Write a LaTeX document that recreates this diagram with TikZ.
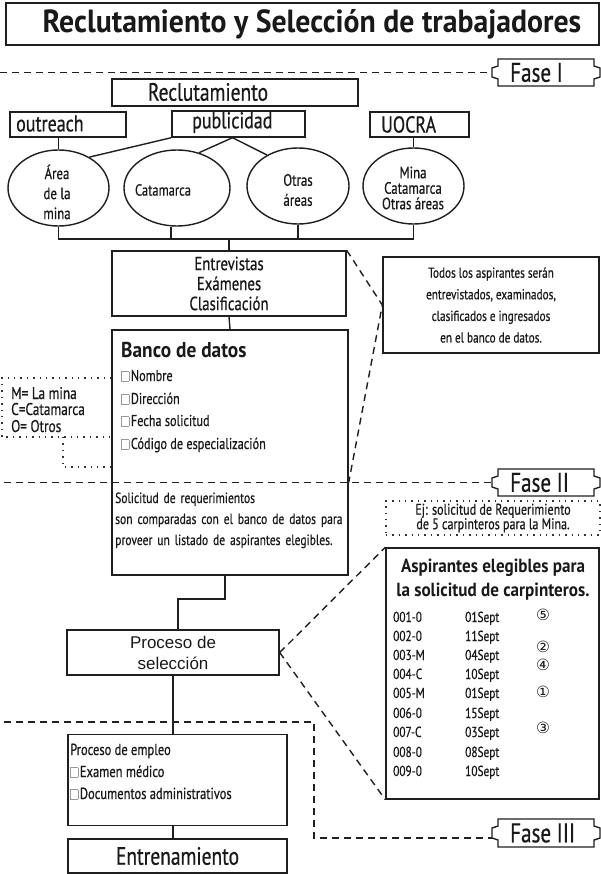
\documentclass[tikz,border=0pt]{standalone}
\usepackage{fontspec}
\setmainfont{PT Sans}
\newfontfamily\cnd{PT Sans}[FakeStretch=0.78, FakeBold=0.6]
\newfontfamily\bnd{PT Sans}[FakeStretch=0.9]
\newfontfamily\tnd{PT Sans}[FakeStretch=0.93]
\newfontfamily\symf{DejaVu Sans}
\newfontfamily\arialf{Liberation Sans}
\usetikzlibrary{shapes.geometric}
\newcommand\fs[2]{\fontsize{#1}{#2}\selectfont}
\newcommand\chk{{\color{black!40}\fboxrule=0.6pt\fboxsep=0pt\fbox{\rule{0pt}{9pt}\rule{7pt}{0pt}}}\kern1.5pt}
\newcommand\fasetag[4]{%
  \node[minimum width=108, minimum height={#3-#2}] (#1) at (546,{(#2+#3)/2}) {};
  \draw[tagline] (498,#2) -- (594,#2) -- (594,#2+7) -- (600,#2+9) -- (600,#3-9) -- (594,#3-7) -- (594,#3)
     -- (498,#3) -- (498,#3-7) -- (492,#3-9) -- (492,#2+9) -- (498,#2+7) -- cycle;
  \node[anchor=west, font=\cnd\fs{27}{27}] (#1t) at (510,{(#2+#3)/2}) {#4};}
\begin{document}
\begin{tikzpicture}[x=1pt,y=-1pt,
  every node/.style={inner sep=0pt, text=black!90},
  box/.style={draw=black!88, line width=1.4pt, rectangle},
  ell/.style={draw=black!88, line width=1.4pt, ellipse},
  link/.style={draw=black!88, line width=1.4pt},
  dashlink/.style={draw=black!88, line width=1.4pt, dash pattern=on 7pt off 5pt},
  dotlink/.style={draw=black!80, line width=1.4pt, dash pattern=on 1.4pt off 5pt},
  tagline/.style={draw=black!88, line width=1.4pt, line join=miter},
  cond/.style={font=\cnd\fs{#1}{#1}},
  circ/.style={font=\symf\fs{15.5}{15.5}},
]
\useasboundingbox (0,0) rectangle (601,874);

% title
\node[box, minimum width=593, minimum height=42] (title) at (302.5,24) {};
\node[font=\tnd\bfseries\fs{32}{32}] (titletxt) at (312,24) {Reclutamiento y Selección de trabajadores};

% phase tags
\fasetag{f1}{59}{86}{Fase I}
\fasetag{f2}{469}{496}{Fase II}
\fasetag{f3}{819}{847}{Fase III}

% Phase I
\node[box, minimum width=246, minimum height=27] (recl) at (235,92.5) {};
\node[cond=25] (reclt) at (208,92) {Reclutamiento};
\node[box, minimum width=116, minimum height=25] (outreach) at (68,124.5) {};
\node[cond=23, anchor=west] (outreacht) at (16,123.5) {outreach};
\node[box, minimum width=133, minimum height=26] (publi) at (238.5,124) {};
\node[cond=23, anchor=west] (publit) at (192,122.5) {publicidad};
\node[box, minimum width=99, minimum height=25] (uocra) at (419.5,124.5) {};
\node[cond=23, anchor=west] (uocrat) at (381,124.5) {UOCRA};

\node[ell, minimum width=101, minimum height=76] (e1) at (58.5,188) {};
\node[font=\cnd\fs{16.5}{20}, align=center] (e1t) at (57,192) {Área\\de la\\mina};
\node[ell, minimum width=106, minimum height=76] (e2) at (177,188) {};
\node[cond=16] (e2t) at (163,190) {Catamarca};
\node[ell, minimum width=102, minimum height=76] (e3) at (298,186) {};
\node[font=\cnd\fs{16.5}{20}, align=center] (e3t) at (298,190) {Otras\\áreas};
\node[ell, minimum width=101, minimum height=76] (e4) at (413.5,186) {};
\node[font=\cnd\fs{16.5}{15.5}, align=center] (e4t) at (413,188) {Mina\\Catamarca\\Otras áreas};

\draw[link] (e1.north |- outreach.south) -- (e1.north);
\draw[link] (publi.south west) -- (e1.45);
\draw[link] ([xshift=-6pt]publi.south) -- (e2.58);
\draw[link] ([xshift=-6pt]publi.south) -- (e3.135);
\draw[link] (e4.north |- uocra.south) -- (e4.north);

\coordinate (bar) at (0,239);
\draw[link] (e1.south) -- (e1.south |- bar) -- (e4.south |- bar) -- (e4.south);
\draw[link] ([xshift=-6pt]e2.south) -- ([xshift=-6pt]e2.south |- bar);
\draw[link] (e3.south) -- (e3.south |- bar);

\node[box, minimum width=234, minimum height=65, font=\cnd\fs{19}{20}, align=center] (entrev) at (229,283.5)
  {Entrevistas\\Exámenes\\Clasificación};
\draw[link] (entrev.north |- bar) -- (entrev.north);

\node[box, minimum width=216, minimum height=96, font=\cnd\fs{14.4}{21.6}, align=center] (todos) at (491,305)
  {Todos los aspirantes serán\\entrevistados, examinados,\\clasificados e ingresados\\en el banco de datos.};

% Banco de datos
\node[box, minimum width=236, minimum height=245] (banco) at (230,452.5) {};
\draw[link] (entrev.south) -- (banco.north);
\node[anchor=base west, font=\bnd\bfseries\fs{21.5}{21.5}] (bancot) at (121,357) {Banco de datos};
\node[anchor=base west, cond=15.7] (b1) at (121,381) {\chk Nombre};
\node[anchor=base west, cond=15.7] (b2) at (121,404) {\chk Dirección};
\node[anchor=base west, cond=15.7] (b3) at (121,426) {\chk Fecha solicitud};
\node[anchor=base west, cond=15.7] (b4) at (121,449) {\chk Código de especialización};
\node[anchor=base west, font=\cnd\fs{14.8}{21}, align=left, text width=230] (sol) at (115,503)
  {Solicitud de requerimientos\\son comparadas con el banco de datos para\\proveer un listado de aspirantes elegibles.};

% legend
\node[anchor=base west, cond=17] (lm) at (11,399) {M=\ La mina};
\node[anchor=base west, cond=17] (lc) at (11,415) {C=Catamarca};
\node[anchor=base west, cond=17] (lo) at (11,432) {O=\ Otros};
\draw[dotlink] (banco.west |- 0,378) -- (2,378) -- (2,437) -- (banco.west |- 0,437);
\draw[dotlink] (63,437) -- (63,467) -- (banco.west |- 0,467);

% Fase I / II lines
\coordinate (f1start) at (0,72.5);
\draw[dashlink] (f1start) -- (f1.west);
\coordinate (f2start) at (4,482.5);
\draw[dashlink] (f2start) -- (f2.west);
\draw[dashlink] (entrev.north east) -- (todos.west) -- (banco.east |- f2start);

% Ej box
\node[draw, dotlink, minimum width=214, minimum height=34, font=\cnd\fs{15.5}{14.5}, align=center] (ej) at (493,518)
  {Ej: solicitud de Requerimiento\\de 5 carpinteros para la Mina.};

% Aspirantes
\node[box, minimum width=213, minimum height=251] (asp) at (492.5,673.5) {};
\node[font=\bnd\bfseries\fs{19}{24}, align=center] (aspt) at (493,580)
  {Aspirantes elegibles para\\la solicitud de carpinteros.};
\foreach \c/\d/\y [count=\i] in {001-0/01Sept/622, 002-0/11Sept/641, 003-M/04Sept/660, 004-C/10Sept/679,
   005-M/01Sept/698, 006-0/15Sept/718, 007-C/03Sept/737, 008-0/08Sept/757, 009-0/10Sept/776}{
  \node[anchor=base west, cond=14.5] (code\i) at (393,\y) {\c};
  \node[anchor=base west, cond=14.5] (date\i) at (465,\y) {\d};
}
\node[circ] (n5) at (543,615) {⑤};
\node[circ] (n2) at (543,647) {②};
\node[circ] (n4) at (543,665) {④};
\node[circ] (n1) at (543,692) {①};
\node[circ] (n3) at (543,728) {③};

% Proceso de seleccion
\node[box, minimum width=212, minimum height=45, font=\arialf\fs{17}{21}, align=center] (proceso) at (173,652.5)
  {Proceso de\\selección};
\coordinate (mid) at (0,599);
\draw[link] ([xshift=-5pt]banco.south) -- ([xshift=-5pt]banco.south |- mid) -- ([xshift=5pt]proceso.north |- mid) -- ([xshift=5pt]proceso.north);
\draw[dashlink] (proceso.east) -- (asp.north west);
\draw[dashlink] (proceso.east) -- (asp.south west);

% Fase III
\coordinate (f3start) at (4,722);
\coordinate (f3corner) at (314,722);
\draw[dashlink] (f3start) -- (f3corner) -- (f3corner |- 0,838) -- ([yshift=-5pt]f3.west);

% Proceso de empleo
\node[box, minimum width=219, minimum height=91] (empleo) at (177.5,780) {};
\draw[link] (proceso.south) -- (proceso.south |- empleo.north);
\node[anchor=base west, cond=16] (emp0) at (70,755) {Proceso de empleo};
\node[anchor=base west, cond=16] (emp1) at (70,777) {\chk Examen médico};
\node[anchor=base west, cond=16] (emp2) at (70,799) {\chk Documentos administrativos};

\node[box, minimum width=219, minimum height=34, font=\cnd\fs{25}{25}] (entren) at (177.5,856) {Entrenamiento};
\draw[link] (proceso.south |- empleo.south) -- (proceso.south |- entren.north);
\end{tikzpicture}
\end{document}
